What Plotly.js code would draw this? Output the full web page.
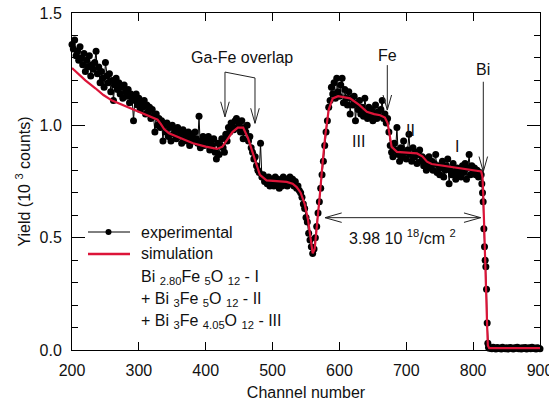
<!DOCTYPE html>
<html>
<head>
<meta charset="utf-8">
<script src="https://cdn.plot.ly/plotly-3.0.1.min.js"></script>
<style>
  html, body { margin: 0; padding: 0; background: #fff; }
  #chart { width: 549px; height: 407px; }
</style>
</head>
<body>
<div id="chart"></div>
<script>
// ---------------- DATA ----------------
// Experimental spectrum, part A: channels 200..810, step 2
const expStartA = 200, expStepA = 2;
const expYieldA = [
  1.36, 1.34, 1.38, 1.31, 1.33, 1.29, 1.35, 1.30, 1.27, 1.32,
  1.24, 1.29, 1.26, 1.31, 1.22, 1.27, 1.25, 1.28, 1.33, 1.23,
  1.26, 1.19, 1.24, 1.21, 1.17, 1.28, 1.22, 1.19, 1.23, 1.15,
  1.20, 1.11, 1.18, 1.21, 1.16, 1.19, 1.14, 1.17, 1.12, 1.18,
  1.15, 1.13, 1.16, 1.10, 1.14, 1.12, 1.02, 1.11, 1.14, 1.09,
  1.12, 1.07, 1.10, 1.08, 1.11, 1.05, 1.09, 1.06, 1.08, 1.03,
  1.07, 1.04, 0.97, 1.05, 1.00, 1.03, 0.99, 1.02, 0.93, 1.00,
  0.97, 1.01, 0.95, 0.99, 0.93, 1.00, 0.96, 0.98, 0.94, 0.99,
  0.95, 0.97, 0.92, 0.98, 0.94, 0.96, 0.93, 0.97, 0.91, 0.95,
  0.96, 0.93, 0.97, 0.94, 0.92, 1.04, 0.90, 0.93, 0.95, 0.91,
  0.94, 0.92, 0.95, 0.89, 0.93, 0.91, 0.94, 0.88, 0.85, 0.92,
  0.87, 0.91, 0.94, 0.90, 0.88, 0.96, 0.93, 0.99, 0.97, 1.01,
  1.00, 0.98, 1.02, 1.03, 0.99, 1.01, 0.97, 1.02, 0.94, 0.99,
  0.97, 1.00, 0.93, 0.95, 0.90, 0.88, 0.85, 0.86, 0.82, 0.80,
  0.79, 0.92, 0.77, 0.78, 0.75, 0.76, 0.74, 0.77, 0.73, 0.76,
  0.75, 0.73, 0.77, 0.74, 0.76, 0.72, 0.75, 0.73, 0.77, 0.74,
  0.76, 0.73, 0.75, 0.77, 0.74, 0.76, 0.73, 0.75, 0.72, 0.73,
  0.71, 0.70, 0.68, 0.65, 0.63, 0.59, 0.57, 0.52, 0.49, 0.46,
  0.43, 0.45, 0.50, 0.55, 0.61, 0.66, 0.72, 0.78, 0.84, 0.91,
  0.97, 1.02, 1.08, 1.11, 1.17, 1.14, 1.19, 1.12, 1.21, 1.15,
  1.13, 1.18, 1.21, 1.10, 1.16, 1.12, 1.09, 1.15, 1.05, 1.12,
  1.09, 1.13, 1.02, 1.10, 1.07, 1.11, 1.05, 1.08, 1.04, 1.12,
  1.06, 1.03, 1.08, 1.04, 1.07, 1.02, 1.05, 1.09, 1.03, 1.06,
  1.04, 1.07, 1.11, 1.03, 1.05, 1.01, 1.03, 0.97, 0.91, 0.88,
  0.86, 0.92, 0.89, 0.99, 0.87, 0.84, 0.90, 0.86, 0.93, 0.88,
  0.85, 0.89, 0.96, 0.87, 0.84, 0.90, 0.86, 0.88, 0.83, 0.87,
  0.89, 0.84, 0.86, 0.82, 0.85, 0.80, 0.83, 0.86, 0.81, 0.84,
  0.80, 0.83, 0.87, 0.79, 0.82, 0.78, 0.81, 0.84, 0.77, 0.80,
  0.82, 0.85, 0.74, 0.80, 0.78, 0.83, 0.79, 0.76, 0.81, 0.78,
  0.80, 0.77, 0.82, 0.79, 0.83, 0.76, 0.81, 0.87, 0.78, 0.82,
  0.79, 0.81, 0.78, 0.80, 0.77, 0.79
];
// Part B: Bi edge, channels 812..824, step 1
const expStartB = 812, expStepB = 1;
const expYieldB = [0.78, 0.74, 0.70, 0.66, 0.54, 0.46, 0.40, 0.37, 0.27, 0.12, 0.03, 0.012, 0.008];
// Part C: background, channels 826..900, step 2
const expStartC = 826, expStepC = 2;
const expYieldC = [
  0.010, 0.006, 0.012, 0.008, 0.004, 0.011, 0.007, 0.009, 0.005, 0.012,
  0.008, 0.006, 0.010, 0.004, 0.009, 0.011, 0.007, 0.005, 0.010, 0.008,
  0.012, 0.006, 0.009, 0.004, 0.010, 0.007, 0.011, 0.005, 0.008, 0.010,
  0.006, 0.012, 0.007, 0.009, 0.005, 0.010, 0.008, 0.006
];

// Simulation curve
const simChannel = [200, 210, 220, 235, 247, 260, 275, 287, 300, 315, 328, 333, 338, 345, 360, 381, 400, 417,
  425, 432, 440, 448, 456, 463, 469, 474, 481, 491, 505, 521, 530, 536, 542, 548, 553, 557, 560, 563, 567,
  571, 575, 579, 584, 590, 598, 616, 630, 641, 652, 661, 668, 672, 675, 678, 686, 700, 716, 724, 731, 738,
  760, 780, 806, 812, 814, 815, 821, 822, 824, 900];
const simYield = [1.255, 1.228, 1.200, 1.165, 1.135, 1.110, 1.092, 1.077, 1.060, 1.042, 1.025, 1.005, 0.982, 0.965, 0.945, 0.920, 0.905, 0.895,
  0.905, 0.935, 0.970, 0.990, 0.990, 0.945, 0.890, 0.840, 0.780, 0.755, 0.752, 0.748, 0.740, 0.725, 0.700, 0.650, 0.580, 0.500, 0.430, 0.450, 0.560,
  0.700, 0.840, 0.960, 1.070, 1.120, 1.130, 1.120, 1.090, 1.060, 1.050, 1.045, 1.035, 1.010, 0.960, 0.905, 0.882, 0.879, 0.875, 0.862, 0.838, 0.828,
  0.818, 0.810, 0.800, 0.795, 0.770, 0.700, 0.100, 0.020, 0.008, 0.008];

// Axis ticks
const xTickVals = [200, 300, 400, 500, 600, 700, 800, 900];
const yTickVals = [0.0, 0.5, 1.0, 1.5];
const yTickText = ['0.0', '0.5', '1.0', '1.5'];

// ---------------- BUILD ----------------
function chans(start, step, n) { const a = []; for (let i = 0; i < n; i++) a.push(start + step * i); return a; }
const expChannel = [].concat(
  chans(expStartA, expStepA, expYieldA.length),
  chans(expStartB, expStepB, expYieldB.length),
  chans(expStartC, expStepC, expYieldC.length));
const expYield = [].concat(expYieldA, expYieldB, expYieldC);

const FONT = 'Liberation Sans, Arial, sans-serif';
const RED = '#dc1438';
const ARW = '#222';

const traces = [
  { x: expChannel, y: expYield, type: 'scatter', mode: 'lines+markers', name: 'experimental',
    line: { color: '#000', width: 1 }, marker: { color: '#000', size: 7 }, showlegend: false, cliponaxis: false },
  { x: simChannel, y: simYield, type: 'scatter', mode: 'lines', name: 'simulation',
    line: { color: RED, width: 2.2 }, showlegend: false }
];

// arrow heads (open V) in data units
const VW = 6.4, VH = 0.067;        // vertical arrows
const HW = 25, HH = 0.021;         // horizontal arrows
function vDown(x, y) { return { type: 'path', xref: 'x', yref: 'y', path: `M ${x - VW},${y + VH} L ${x},${y} L ${x + VW},${y + VH}`, line: { color: ARW, width: 1 } }; }
function seg(x0, y0, x1, y1) { return { type: 'line', xref: 'x', yref: 'y', x0, y0, x1, y1, line: { color: ARW, width: 1 } }; }
function hLeft(x, y) { return { type: 'path', xref: 'x', yref: 'y', path: `M ${x + HW},${y + HH} L ${x},${y} L ${x + HW},${y - HH}`, line: { color: ARW, width: 1 } }; }
function hRight(x, y) { return { type: 'path', xref: 'x', yref: 'y', path: `M ${x - HW},${y + HH} L ${x},${y} L ${x - HW},${y - HH}`, line: { color: ARW, width: 1 } }; }

const shapes = [
  // Ga-Fe overlap bracket
  seg(428.8, 1.237, 428.8, 1.038), vDown(428.8, 1.038),
  seg(428.8, 1.237, 473.7, 1.211),
  seg(473.7, 1.211, 473.7, 1.009), vDown(473.7, 1.009),
  // Fe
  seg(671.6, 1.268, 671.6, 1.068), vDown(671.6, 1.068),
  // Bi
  seg(815.2, 1.194, 815.2, 0.794), vDown(815.2, 0.794),
  // thickness double arrow
  seg(578.4, 0.589, 811.3, 0.589), hLeft(578.4, 0.589), hRight(811.3, 0.589),
  // legend samples
  { type: 'line', xref: 'paper', yref: 'paper', x0: (88 - 72) / 468, x1: (130 - 72) / 468, y0: (350 - 232) / 337, y1: (350 - 232) / 337, line: { color: '#000', width: 1 } },
  { type: 'circle', xref: 'paper', yref: 'paper', x0: (105.5 - 72) / 468, x1: (111.5 - 72) / 468, y0: (350 - 235) / 337, y1: (350 - 229) / 337, fillcolor: '#000', line: { color: '#000', width: 0 } },
  { type: 'line', xref: 'paper', yref: 'paper', x0: (88 - 72) / 468, x1: (130 - 72) / 468, y0: (350 - 254) / 337, y1: (350 - 254) / 337, line: { color: RED, width: 2.5 } }
];

function txt(x, y, text, opts) {
  return Object.assign({ x, y, xref: 'x', yref: 'y', text, showarrow: false, font: { family: FONT, size: 16, color: '#111' } }, opts || {});
}
function ptxt(px, py, text) {
  return { x: (px - 72) / 468, y: (350 - py) / 337, xref: 'paper', yref: 'paper', text, showarrow: false, xanchor: 'left', yanchor: 'middle', font: { family: FONT, size: 16, color: '#111' } };
}

const annotations = [
  txt(455, 1.304, 'Ga-Fe overlap'),
  txt(671.6, 1.31, 'Fe'),
  txt(815.2, 1.247, 'Bi'),
  txt(629, 0.926, 'III'),
  txt(707, 0.979, 'II'),
  txt(776, 0.908, 'I'),
  txt(695, 0.505, '3.98 10 <sup>18</sup>/cm <sup>2</sup>'),
  ptxt(139, 232, 'experimental'),
  ptxt(139, 254, 'simulation'),
  ptxt(139, 277, 'Bi <sub>2.80</sub>Fe <sub>5</sub>O <sub>12</sub> - I'),
  ptxt(139, 299, '+ Bi <sub>3</sub>Fe <sub>5</sub>O <sub>12</sub> - II'),
  ptxt(139, 321, '+ Bi <sub>3</sub>Fe <sub>4.05</sub>O <sub>12</sub> - III')
];

const layout = {
  width: 549, height: 407,
  margin: { l: 72, r: 9, t: 13, b: 57, pad: 0 },
  paper_bgcolor: '#fff', plot_bgcolor: '#fff',
  font: { family: FONT, size: 16, color: '#111' },
  showlegend: false,
  xaxis: {
    range: [200, 900], tickvals: xTickVals, ticks: 'inside', ticklen: 8, tickwidth: 1, tickcolor: '#000',
    showline: true, linecolor: '#000', linewidth: 1, mirror: 'ticks', showgrid: false, zeroline: false,
    tickfont: { family: FONT, size: 16, color: '#111' }, ticklabelstandoff: 6, ticklabeloverflow: 'allow',
    title: { text: 'Channel number', font: { family: FONT, size: 16, color: '#111' }, standoff: 8 }
  },
  yaxis: {
    range: [0, 1.5], tickvals: yTickVals, ticktext: yTickText, ticks: 'inside', ticklen: 13, tickwidth: 1, tickcolor: '#000',
    minor: { dtick: 0.1, ticks: 'inside', ticklen: 6, tickwidth: 1, tickcolor: '#000', showgrid: false },
    showline: true, linecolor: '#000', linewidth: 1, mirror: 'ticks', showgrid: false, zeroline: false,
    tickfont: { family: FONT, size: 16, color: '#111' }, ticklabelstandoff: 6, ticklabeloverflow: 'allow',
    title: { text: 'Yield (10 <sup>3</sup> counts)', font: { family: FONT, size: 16, color: '#111' } }
  },
  shapes, annotations
};

Plotly.newPlot('chart', traces, layout, { staticPlot: true, displayModeBar: false });
</script>
</body>
</html>
